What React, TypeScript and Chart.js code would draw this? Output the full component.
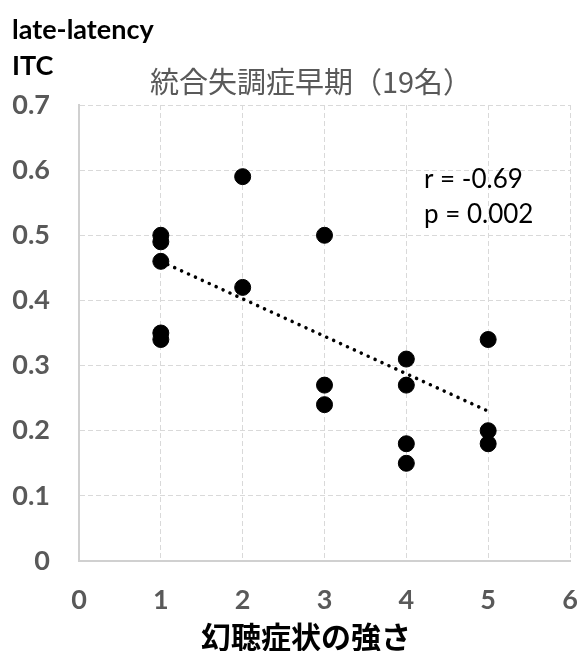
import React, { useEffect, useRef } from "react";
import { Chart, registerables } from "chart.js";

Chart.register(...registerables);

// Data
const symptomScores: number[] = [1, 1, 1, 1, 1, 2, 2, 3, 3, 3, 4, 4, 4, 4, 5, 5, 5];
const itcValues: number[] = [0.5, 0.49, 0.46, 0.35, 0.34, 0.59, 0.42, 0.5, 0.27, 0.24, 0.31, 0.27, 0.18, 0.15, 0.34, 0.2, 0.18];
const trendX: number[] = [1, 5];
const trendY: number[] = [0.46, 0.23];

const titleText = "統合失調症早期（19名）";
const yTitleLines = ["late-latency", "ITC"];
const xTitleText = "幻聴症状の強さ";
const statLines = ["r = -0.69", "p = 0.002"];

const X_MIN = 0, X_MAX = 6, X_STEP = 1;
const Y_MIN = 0, Y_MAX = 0.7, Y_STEP = 0.1;

const LATIN = "Lato, 'Open Sans', sans-serif";
const CJK = "'Noto Sans CJK JP', 'Noto Sans', sans-serif";

const textPlugin = {
  id: "texts",
  afterDraw(chart: any) {
    const ctx = chart.ctx as CanvasRenderingContext2D;
    ctx.save();
    ctx.textBaseline = "middle";
    // y-axis title (top-left)
    ctx.fillStyle = "#000000";
    ctx.textAlign = "left";
    ctx.font = `bold 27px ${LATIN}`;
    ctx.fillText(yTitleLines[0], 12, 30);
    ctx.fillText(yTitleLines[1], 12, 66);
    // main title
    ctx.fillStyle = "#595959";
    ctx.textAlign = "center";
    ctx.font = `29px ${CJK}`;
    ctx.fillText(titleText, 311, 82);
    // statistic annotation
    ctx.fillStyle = "#000000";
    ctx.textAlign = "left";
    ctx.font = `26px ${LATIN}`;
    ctx.fillText(statLines[0], 424, 180);
    ctx.fillText(statLines[1], 424, 215);
    // x-axis title
    ctx.textAlign = "center";
    ctx.font = `bold 30px ${CJK}`;
    ctx.fillText(xTitleText, 306, 637);
    ctx.restore();
  },
};

export default function App() {
  const canvasRef = useRef<HTMLCanvasElement | null>(null);

  useEffect(() => {
    if (!canvasRef.current) return;
    const points = symptomScores.map((x, i) => ({ x, y: itcValues[i] }));
    const trend = trendX.map((x, i) => ({ x, y: trendY[i] }));
    const chart = new Chart(canvasRef.current, {
      type: "scatter",
      data: {
        datasets: [
          {
            label: "ITC",
            data: points,
            backgroundColor: "#000000",
            borderColor: "#000000",
            pointRadius: 8,
            pointHoverRadius: 8,
            order: 2,
          },
          {
            type: "line",
            label: "trend",
            data: trend,
            showLine: true,
            borderColor: "#000000",
            borderWidth: 3.5,
            borderDash: [0.1, 7.5],
            borderCapStyle: "round",
            pointRadius: 0,
            fill: false,
            order: 1,
          } as any,
        ],
      },
      options: {
        animation: false,
        responsive: false,
        maintainAspectRatio: false,
        events: [],
        layout: { padding: { top: 105, right: 8, left: 0, bottom: 0 } },
        plugins: {
          legend: { display: false },
          tooltip: { enabled: false },
          title: { display: false },
        },
        scales: {
          x: {
            type: "linear",
            min: X_MIN,
            max: X_MAX,
            ticks: {
              stepSize: X_STEP,
              color: "#595959",
              font: { family: LATIN, size: 27, weight: "bold" },
              padding: 23,
            },
            grid: { color: "#d9d9d9", lineWidth: 1, drawTicks: false },
            border: { color: "#d0d0d0", width: 2, dash: [5, 3] },
            afterFit: (scale: any) => {
              scale.height = 90;
              scale.paddingLeft = 0;
              scale.paddingRight = 0;
            },
          },
          y: {
            type: "linear",
            min: Y_MIN,
            max: Y_MAX,
            ticks: {
              stepSize: Y_STEP,
              color: "#595959",
              font: { family: LATIN, size: 27, weight: "bold" },
              padding: 29,
              callback: (v: any) => String(Number(Number(v).toFixed(1))),
            },
            grid: { color: "#d9d9d9", lineWidth: 1, drawTicks: false },
            border: { color: "#d0d0d0", width: 2, dash: [5, 3] },
            afterFit: (scale: any) => {
              scale.width = 79;
            },
          },
        },
      } as any,
      plugins: [textPlugin],
    });
    return () => chart.destroy();
  }, []);

  return (
    <div style={{ position: "fixed", left: 0, top: 0, width: 579, height: 651, background: "#ffffff" }}>
      <canvas ref={canvasRef} width={579} height={651} style={{ width: 579, height: 651, display: "block" }} />
    </div>
  );
}
